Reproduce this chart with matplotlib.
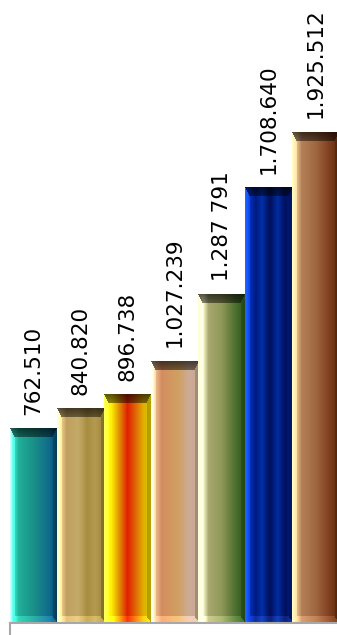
"""
Bevelled gradient bar chart with rotated value labels.
"""
import numpy as np
import matplotlib
matplotlib.use('Agg')
import matplotlib.pyplot as plt
from matplotlib.colors import to_rgb

values = [762.510, 840.820, 896.738, 1027.239, 1287.791, 1708.640, 1925.512]
labels = ['762.510', '840.820', '896.738', '1.027.239', '1.287 791', '1.708.640', '1.925.512']

# horizontal colour stops of each bar (position across bar, colour)
teal_stops = [(0.0, '#B0FFF0'), (0.06, '#40F0D0'), (0.18, '#20B098'), (0.5, '#1A9088'),
              (0.85, '#106A8C'), (1.0, '#0A4A70')]
gold_stops = [(0.0, '#FFF4C0'), (0.08, '#F0D088'), (0.2, '#C0A060'), (0.45, '#C4AA68'),
              (0.62, '#A88C40'), (0.8, '#B49A50'), (1.0, '#9C8438')]
fire_stops = [(0.0, '#FFFF40'), (0.15, '#FFF000'), (0.32, '#E09000'), (0.5, '#E02000'),
              (0.68, '#E06808'), (0.85, '#E0B000'), (1.0, '#D8C800')]
salmon_stops = [(0.0, '#FFF8E0'), (0.08, '#F0C090'), (0.22, '#D48C60'), (0.55, '#D0A060'),
                (0.8, '#CCAC98'), (1.0, '#C8A890')]
olive_stops = [(0.0, '#FFE8B8'), (0.1, '#FFFFD0'), (0.22, '#A8A870'), (0.5, '#909858'),
               (0.8, '#4E7030'), (1.0, '#2C5A1C')]
navy_stops = [(0.0, '#1050FF'), (0.08, '#0034C8'), (0.22, '#001A80'), (0.36, '#0030A8'),
              (0.52, '#00105C'), (0.68, '#002CA0'), (0.84, '#00105C'), (1.0, '#001E84')]
brown_stops = [(0.0, '#FFDCA8'), (0.08, '#F0C890'), (0.2, '#B48058'), (0.5, '#A06840'),
               (0.8, '#804020'), (1.0, '#602C10')]
bar_stops = [teal_stops, gold_stops, fire_stops, salmon_stops, olive_stops, navy_stops, brown_stops]


def bar_image(stops, w, h, top=9, bottom=7, side=5):
    xs = np.linspace(0, 1, w)
    pos = [p for p, _ in stops]
    cols = np.array([to_rgb(c) for _, c in stops])
    row = np.stack([np.interp(xs, pos, cols[:, k]) for k in range(3)], axis=1)
    img = np.repeat(row[None, :, :], h, axis=0)
    r, c = np.mgrid[0:h, 0:w]
    # top bevel darkens towards the very top edge
    shade = 0.35 + 0.2 * (r / top)
    dark = img * shade[..., None]
    light = np.clip(img * 1.12 + 0.06, 0, 1)
    inset_top = r * side / top
    top_mask = (r < top) & (c >= inset_top - 0.5) & (c <= w - 1 - inset_top + 0.5)
    rb = h - 1 - r
    inset_bot = rb * side / bottom
    bot_mask = (rb < bottom) & (c >= inset_bot - 0.5) & (c <= w - 1 - inset_bot + 0.5)
    left_mask = (c < side) & ~top_mask & ~bot_mask
    right_mask = (c >= w - side + 1) & ~top_mask & ~bot_mask
    out = img.copy()
    out[left_mask] = np.clip(img[left_mask] * 1.08 + 0.06, 0, 1)
    out[right_mask] = img[right_mask] * 0.82
    out[bot_mask] = light[bot_mask]
    out[top_mask] = dark[top_mask]
    return out


W, H = 337, 635
fig = plt.figure(figsize=(W / 100, H / 100), dpi=100)
ax = fig.add_axes([10 / W, 12 / H, 327 / W, 623 / H])
ax.set_xlim(-0.5, -0.5 + 327 / 47)
ax.set_ylim(0, 2445)
ax.axis('off')

for i, (v, st, lab) in enumerate(zip(values, bar_stops, labels)):
    p0 = ax.transData.transform((i - 0.5, 0))
    p1 = ax.transData.transform((i + 0.5, v))
    w_px = int(round(p1[0] - p0[0]))
    h_px = int(round(p1[1] - p0[1]))
    img = bar_image(st, w_px, h_px)
    ax.imshow(img, extent=(i - 0.5, i + 0.5, 0, v), aspect='auto',
              origin='upper', interpolation='nearest', zorder=2)
    ax.annotate(lab, (i, v), xytext=(0, 10), textcoords='offset points',
                rotation=90, ha='center', va='bottom', fontsize=15.5,
                family='DejaVu Sans', color='black', zorder=3)

ax.plot([-0.5, 7], [0, 0], color='#A8A8A8', lw=1.5, clip_on=False, zorder=4)
ax.plot([0, 0], [0, -12 / 623], transform=ax.transAxes, color='#A8A8A8',
        lw=1.5, clip_on=False)

fig.savefig('out.png', dpi=100)
